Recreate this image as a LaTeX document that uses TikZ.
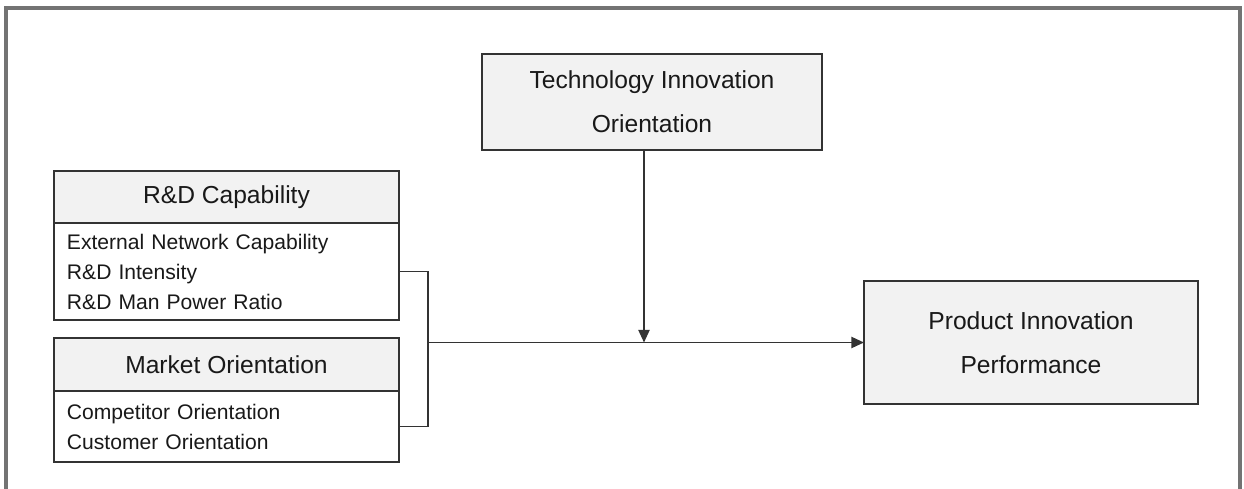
\documentclass[tikz,border=0pt]{standalone}
\usepackage{fontspec}
\setmainfont{Liberation Sans}
\usetikzlibrary{arrows.meta,positioning}

\begin{document}
\begin{tikzpicture}[
  x=0.025cm, y=-0.025cm,
  frame/.style={line width=2.2pt, draw=black!55},
  box/.style={draw=black!80, line width=1.3pt, fill=black!5, text=black!90,
    align=center, inner sep=0pt, outer sep=0pt},
  bigtext/.style={font=\fontsize{17.5}{31.3}\selectfont},
  headbox/.style={box, minimum width=8.625cm, font=\fontsize{17.5}{21}\selectfont},
  itembox/.style={box, fill=white, text width=7.975cm, inner xsep=0.325cm,
    align=left, font=\fontsize{15}{21.3}\selectfont},
  link/.style={draw=black!80, line width=1.2pt},
  arrow/.style={link, -{Triangle[length=9pt, width=8pt]}}
]
  \useasboundingbox (0,0) rectangle (1244,488);

  % Outer frame
  \draw[frame] (6,495) -- (6,8) -- (1240,8) -- (1240,495);

  % Moderator and outcome
  \node[box, bigtext, minimum width=8.5cm, minimum height=2.4cm]
    (tech) at (652,102) {Technology Innovation\\Orientation};
  \node[box, bigtext, minimum width=8.35cm, minimum height=3.075cm]
    (pip) at (1031,342.5) {Product Innovation\\Performance};

  % Antecedent blocks
  \node[headbox, minimum height=1.3cm] (rndhead) at (226.5,197) {R\&D Capability};
  \node[itembox, minimum height=2.425cm, below=0pt of rndhead] (rndbody)
    {External Network Capability\\R\&D Intensity\\R\&D Man Power Ratio};
  \node[headbox, minimum height=1.325cm] (mkthead) at (226.5,364.5) {Market Orientation};
  \node[itembox, minimum height=1.775cm, below=0pt of mkthead] (mktbody)
    {Competitor Orientation\\Customer Orientation};

  % Connectors
  \coordinate (join) at (428,342.5);
  \coordinate (drop) at (644,150);
  \draw[link] (rndbody.east) -| (join) |- (mktbody.east);
  \draw[arrow] (join) -- (pip.west);
  \draw[arrow] (drop) -- (drop |- join);

\end{tikzpicture}
\end{document}
